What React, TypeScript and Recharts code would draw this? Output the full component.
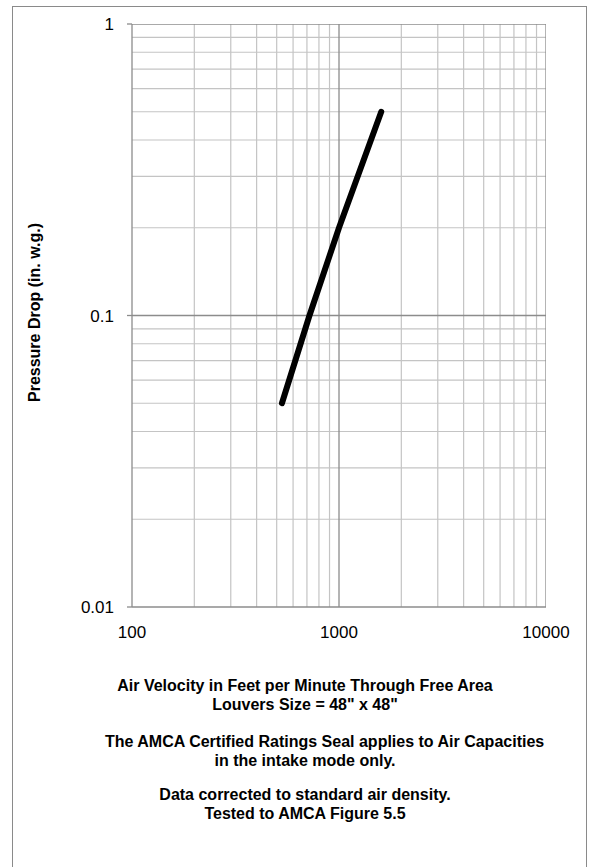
import React from 'react';
import { LineChart, Line, XAxis, YAxis, ReferenceLine } from 'recharts';

const velocity = [530, 720, 1000, 1600];
const pressure = [0.05, 0.1, 0.2, 0.5];
const xTicks = [100, 1000, 10000];
const yTicks = [0.01, 0.1, 1];
const xMinor = [200, 300, 400, 500, 600, 700, 800, 900, 2000, 3000, 4000, 5000, 6000, 7000, 8000, 9000];
const yMinor = [0.02, 0.03, 0.04, 0.05, 0.06, 0.07, 0.08, 0.09, 0.2, 0.3, 0.4, 0.5, 0.6, 0.7, 0.8, 0.9];
const xMajor = [1000, 10000];
const yMajor = [0.1, 1];
const yLabel = 'Pressure Drop (in. w.g.)';
const notes = [
  ['Air Velocity in Feet per Minute Through Free Area', 'Louvers Size = 48" x 48"'],
  ['The AMCA Certified Ratings Seal applies to Air Capacities', 'in the intake mode only.'],
  ['Data corrected to standard air density.', 'Tested to AMCA Figure 5.5'],
];
const noteTops = [676, 732, 785];

const data = velocity.map((v, i) => ({ v, p: pressure[i] }));

const FONT = '"Liberation Sans", Arial, sans-serif';
const MINOR = '#c4c4c4';
const MAJOR = '#8c8c8c';

export default function App() {
  return (
    <div style={{ position: 'absolute', left: 0, top: 0, width: 594, height: 867, overflow: 'hidden', background: '#fff', fontFamily: FONT }}>
      <div style={{ position: 'absolute', left: 12, top: 6, width: 575, height: 880, border: '1px solid #8a8a8a', boxSizing: 'border-box' }} />
      <div style={{ position: 'absolute', left: 0, top: 0 }}>
        <LineChart width={594} height={867} data={data} margin={{ top: 24, right: 48, left: 0, bottom: 230 }}>
          {xMinor.map((x) => (
            <ReferenceLine key={'xm' + x} x={x} stroke={MINOR} strokeWidth={1.2} ifOverflow="hidden" />
          ))}
          {yMinor.map((y) => (
            <ReferenceLine key={'ym' + y} y={y} stroke={MINOR} strokeWidth={1.2} ifOverflow="hidden" />
          ))}
          {xMajor.map((x) => (
            <ReferenceLine key={'xM' + x} x={x} stroke={MAJOR} strokeWidth={1.3} ifOverflow="hidden" />
          ))}
          {yMajor.map((y) => (
            <ReferenceLine key={'yM' + y} y={y} stroke={MAJOR} strokeWidth={1.3} ifOverflow="hidden" />
          ))}
          <XAxis
            dataKey="v"
            type="number"
            scale="log"
            domain={[100, 10000]}
            ticks={xTicks}
            allowDataOverflow
            height={30}
            axisLine={{ stroke: MAJOR, strokeWidth: 1.3 }}
            tickLine={false}
            tickSize={0}
            tickMargin={19}
            tick={{ fill: '#000', fontSize: 17, fontFamily: FONT }}
            interval={0}
          />
          <YAxis
            dataKey="p"
            type="number"
            scale="log"
            domain={[0.01, 1]}
            ticks={yTicks}
            allowDataOverflow
            width={132}
            axisLine={{ stroke: MAJOR, strokeWidth: 1.3 }}
            tickLine={{ stroke: MAJOR, strokeWidth: 1.3 }}
            tickSize={5}
            tickMargin={13}
            tick={{ fill: '#000', fontSize: 17, fontFamily: FONT }}
            interval={0}
            label={{ value: yLabel, angle: -90, position: 'center', dx: -32, dy: -3, style: { fontSize: 16, fontWeight: 'bold', fill: '#000', fontFamily: FONT } }}
          />
          <Line
            dataKey="p"
            type="linear"
            stroke="#000"
            strokeWidth={6}
            strokeLinecap="round"
            strokeLinejoin="round"
            dot={false}
            isAnimationActive={false}
          />
        </LineChart>
      </div>
      {notes.map((lines, i) => (
        <div
          key={i}
          style={{ position: 'absolute', left: 105, width: 400, top: noteTops[i], textAlign: 'center', fontWeight: 'bold', fontSize: 16, lineHeight: '19px', color: '#000', whiteSpace: 'nowrap' }}
        >
          {lines.map((l, j) => (
            <div key={j}>{l}</div>
          ))}
        </div>
      ))}
    </div>
  );
}
